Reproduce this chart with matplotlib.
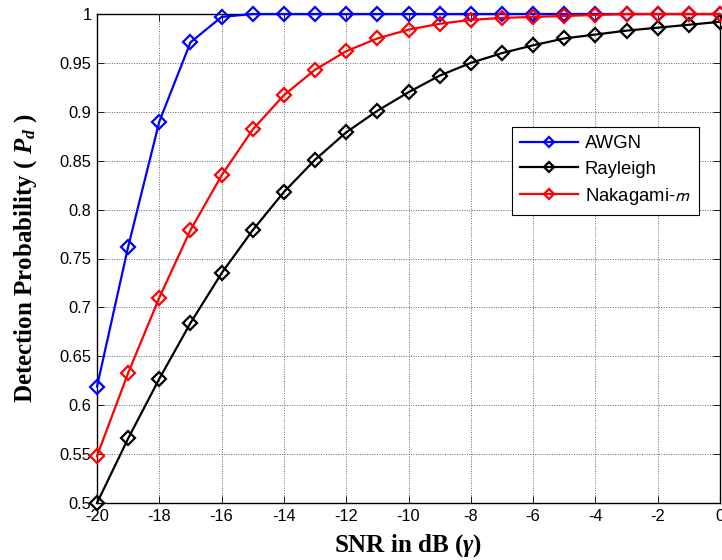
import matplotlib
matplotlib.use("Agg")
import matplotlib.pyplot as plt
from matplotlib.font_manager import FontProperties
import numpy as np

snr_db = list(range(-20, 1))
awgn = [0.619, 0.762, 0.890, 0.971, 0.997, 1.0, 1.0, 1.0, 1.0, 1.0, 1.0,
        1.0, 1.0, 1.0, 1.0, 1.0, 1.0, 1.0, 1.0, 1.0, 1.0]
rayleigh = [0.500, 0.566, 0.627, 0.684, 0.735, 0.779, 0.818, 0.851, 0.879, 0.901, 0.920,
            0.937, 0.950, 0.960, 0.968, 0.975, 0.979, 0.983, 0.986, 0.989, 0.992]
nakagami = [0.548, 0.633, 0.710, 0.779, 0.835, 0.882, 0.917, 0.943, 0.962, 0.975, 0.984,
            0.990, 0.994, 0.996, 0.997, 0.998, 0.999, 1.0, 1.0, 1.0, 1.0]
labels = ["AWGN", "Rayleigh", "Nakagami-$m$"]
colors = ["#0000ff", "#000000", "#ff0000"]
xticks = list(range(-20, 1, 2))
yticks = [0.5, 0.55, 0.6, 0.65, 0.7, 0.75, 0.8, 0.85, 0.9, 0.95, 1.0]
ytick_labels = ["0.5", "0.55", "0.6", "0.65", "0.7", "0.75", "0.8", "0.85", "0.9", "0.95", "1"]

plt.rcParams['font.family'] = ['Liberation Sans', 'DejaVu Sans']
plt.rcParams['mathtext.fontset'] = 'custom'
plt.rcParams['mathtext.rm'] = 'Liberation Serif:bold'
plt.rcParams['mathtext.it'] = 'Liberation Serif:bold:italic'
plt.rcParams['mathtext.bf'] = 'Liberation Serif:bold'

fig = plt.figure(figsize=(7.22, 5.6), dpi=100)
ax = fig.add_axes([97/722, 57/560, 623/722, 489/560])

for y, lab, c in zip([awgn, rayleigh, nakagami], labels, colors):
    ax.plot(snr_db, y, color=c, lw=1.6, marker='D', markersize=6.8,
            markerfacecolor='none', markeredgecolor=c, markeredgewidth=1.6,
            label=lab, clip_on=False, zorder=3)

ax.set_xlim(-20, 0)
ax.set_ylim(0.5, 1.0)
ax.set_xticks(xticks)
ax.set_xticklabels([str(t) for t in xticks])
ax.set_yticks(yticks)
ax.set_yticklabels(ytick_labels)
ax.tick_params(direction='in', length=5, width=0.6, labelsize=11.8, pad=4,
               top=True, right=True, colors='black')
ax.grid(True, color='#666666', linestyle=(0, (1, 1.5)), linewidth=0.7)
for s in ax.spines.values():
    s.set_linewidth(1.0)

ax.set_xlabel(r"SNR in dB ($\gamma$)", family='Liberation Serif', fontweight='bold',
              fontsize=18, labelpad=6)
ax.set_ylabel(r"Detection Probability ( $P_d$ )", family='Liberation Serif', fontweight='bold',
              fontsize=18, labelpad=15)

leg_prop = FontProperties(family='Liberation Sans', size=13.3, math_fontfamily='stixsans')
leg = ax.legend(loc='upper left', bbox_to_anchor=((512-97)/623, (503-127)/489),
                prop=leg_prop, fancybox=False, edgecolor='black', framealpha=1,
                borderpad=0.45, labelspacing=0.45, handlelength=3.1, handletextpad=0.4,
                borderaxespad=0, markerscale=0.75)
leg.get_frame().set_linewidth(0.8)

fig.savefig("out.png", dpi=100)
